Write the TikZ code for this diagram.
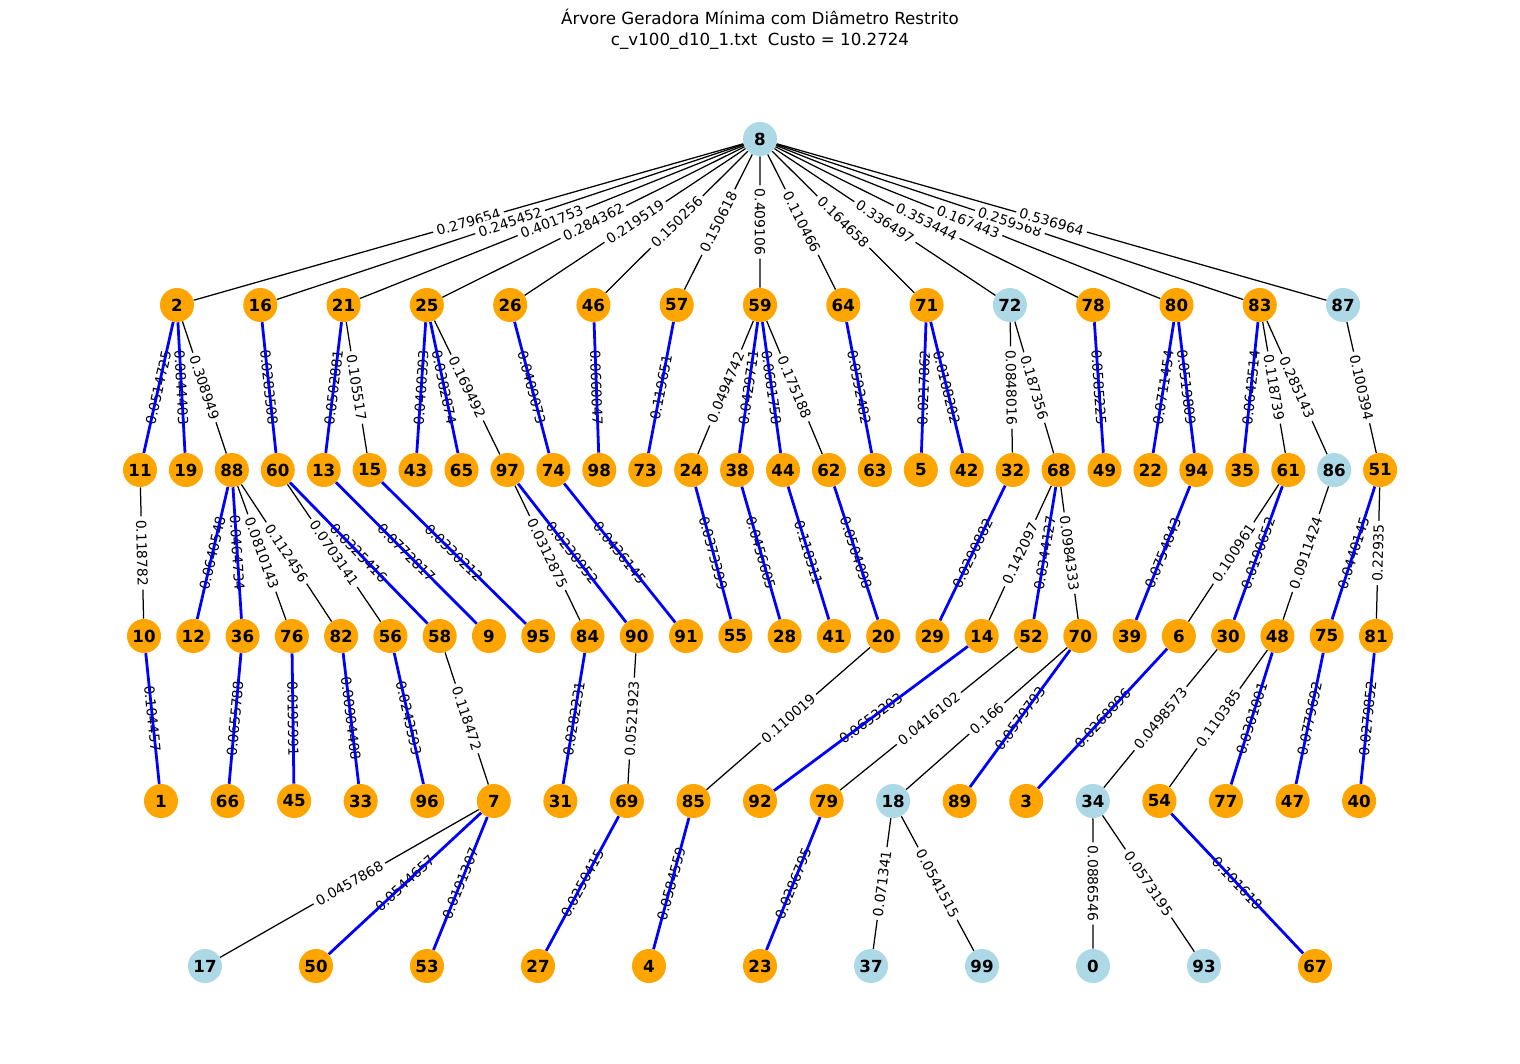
\documentclass[tikz,border=0pt]{standalone}
\usepackage{fontspec}
\setmainfont{DejaVu Sans}
\definecolor{nxo}{HTML}{FFA500}
\definecolor{nxb}{HTML}{ADD8E6}
\pgfdeclarelayer{edges}
\pgfdeclarelayer{tree}
\pgfsetlayers{edges,tree,main}
\tikzset{
  vtx/.style={circle, minimum size=24.5pt, inner sep=0pt, font=\bfseries\fontsize{12}{14}\selectfont},
  nedge/.style={black, line width=0.9pt},
  treeedge/.style={blue, line width=2pt},
  wlabel/.style={midway, sloped, fill=white, inner sep=2.5pt, font=\fontsize{10}{12}\selectfont},
}
% black edges (not in the tree)
\def\blackedges{8/2/0.279654, 8/16/0.245452, 8/21/0.401753, 8/25/0.284362, 8/26/0.219519,
  8/46/0.150256, 8/57/0.150618, 8/59/0.409106, 8/64/0.110466, 8/71/0.164658, 8/72/0.336497,
  8/78/0.353444, 8/80/0.167443, 8/83/0.259568, 8/87/0.536964,
  2/88/0.308949, 21/15/0.105517, 25/97/0.169492, 59/24/0.0494742, 59/62/0.175188,
  72/32/0.0848016, 72/68/0.187356, 83/61/0.118739, 83/86/0.285143, 87/51/0.100394,
  11/10/0.118782, 88/76/0.0810143, 88/82/0.112456, 60/56/0.0703141, 97/84/0.0312875,
  68/14/0.142097, 68/70/0.0984333, 61/6/0.100961, 86/48/0.0911424, 51/81/0.22935,
  58/7/0.118472, 90/69/0.0521923, 20/85/0.110019, 52/79/0.0416102, 70/18/0.166,
  30/34/0.0498573, 48/54/0.110385,
  7/17/0.0457868, 18/37/0.071341, 18/99/0.0541515, 34/0/0.0886546, 34/93/0.0573195}
% blue edges (tree)
\def\treeedges{2/11/0.0514725, 2/19/0.0844403, 16/60/0.0283508, 21/13/0.0502881,
  25/43/0.0400393, 25/65/0.0382874, 26/74/0.0409073, 46/98/0.0660047, 57/73/0.119651,
  59/38/0.0429711, 59/44/0.0681758, 64/63/0.0592482, 71/5/0.0217862, 71/42/0.0108202,
  78/49/0.0585225, 80/22/0.0711454, 80/94/0.0519809, 83/35/0.0642514,
  88/12/0.0640548, 88/36/0.0464734, 60/58/0.0325416, 13/9/0.0772817, 15/95/0.0330212,
  97/90/0.0230952, 74/91/0.0436145, 24/55/0.0373399, 38/28/0.0456605, 44/41/0.118311,
  62/20/0.0504098, 32/29/0.0290882, 68/52/0.0344127, 94/39/0.0754843, 61/30/0.0190652,
  51/75/0.0440145,
  10/1/0.104457, 36/66/0.0655788, 76/45/0.0195991, 82/33/0.00904408, 56/96/0.0243593,
  84/31/0.0282231, 14/92/0.0653203, 70/89/0.0579793, 6/3/0.0268896, 48/77/0.0301001,
  75/47/0.0779692, 81/40/0.0279852,
  7/50/0.0544657, 7/53/0.0191307, 69/27/0.0250415, 85/4/0.0584559, 79/23/0.0286795,
  54/67/0.101618}
\begin{document}
\begin{tikzpicture}[x=0.72pt, y=-0.72pt]
    \useasboundingbox (0,0) rectangle (1520,1063);

    % title
    \node[font=\fontsize{12}{15}\selectfont, align=center] (title) at (760,29)
      {Árvore Geradora Mínima com Diâmetro Restrito\\c\_v100\_d10\_1.txt\ \ Custo = 10.2724};

    % vertices, one row per level
    \node[vtx, fill=nxb] (n8) at (760,139) {8};
    \foreach \n/\c [count=\i from 0] in {2/nxo,16/nxo,21/nxo,25/nxo,26/nxo,46/nxo,57/nxo,59/nxo,
        64/nxo,71/nxo,72/nxb,78/nxo,80/nxo,83/nxo,87/nxb}
      \node[vtx, fill=\c] (n\n) at ({177+83.29*\i},305) {\n};
    \foreach \n/\c [count=\i from 0] in {11/nxo,19/nxo,88/nxo,60/nxo,13/nxo,15/nxo,43/nxo,65/nxo,
        97/nxo,74/nxo,98/nxo,73/nxo,24/nxo,38/nxo,44/nxo,62/nxo,63/nxo,5/nxo,42/nxo,32/nxo,
        68/nxo,49/nxo,22/nxo,94/nxo,35/nxo,61/nxo,86/nxb,51/nxo}
      \node[vtx, fill=\c] (n\n) at ({140+45.93*\i},470) {\n};
    \foreach \n/\c [count=\i from 0] in {10/nxo,12/nxo,36/nxo,76/nxo,82/nxo,56/nxo,58/nxo,9/nxo,
        95/nxo,84/nxo,90/nxo,91/nxo,55/nxo,28/nxo,41/nxo,20/nxo,29/nxo,14/nxo,52/nxo,70/nxo,
        39/nxo,6/nxo,30/nxo,48/nxo,75/nxo,81/nxo}
      \node[vtx, fill=\c] (n\n) at ({144+49.28*\i},636) {\n};
    \foreach \n/\c [count=\i from 0] in {1/nxo,66/nxo,45/nxo,33/nxo,96/nxo,7/nxo,31/nxo,69/nxo,
        85/nxo,92/nxo,79/nxo,18/nxb,89/nxo,3/nxo,34/nxb,54/nxo,77/nxo,47/nxo,40/nxo}
      \node[vtx, fill=\c] (n\n) at ({161+66.56*\i},801) {\n};
    \foreach \n/\c [count=\i from 0] in {17/nxb,50/nxo,53/nxo,27/nxo,4/nxo,23/nxo,37/nxb,99/nxb,
        0/nxb,93/nxb,67/nxo}
      \node[vtx, fill=\c] (n\n) at ({205+111*\i},966) {\n};

    % edges and weights
    \begin{pgfonlayer}{edges}
      \foreach \a/\b/\w in \blackedges
        \draw[nedge] (n\a) -- (n\b);
      \foreach \a/\b/\w in \blackedges
        \path (n\a) -- node[wlabel] {\w} (n\b);
      \foreach \a/\b/\w in \treeedges
        \path (n\a) -- node[wlabel] {\w} (n\b);
    \end{pgfonlayer}
    \begin{pgfonlayer}{tree}
      \foreach \a/\b/\w in \treeedges
        \draw[treeedge] (n\a) -- (n\b);
    \end{pgfonlayer}

\end{tikzpicture}
\end{document}
